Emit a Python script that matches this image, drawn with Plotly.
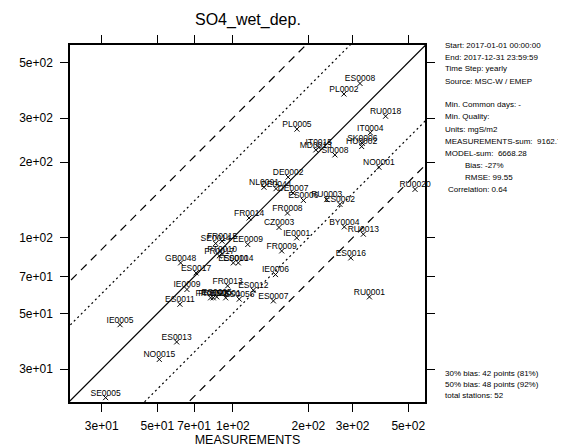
import plotly.graph_objects as go

# ---- data ----
stations = ["ES0008", "PL0002", "RU0018", "PL0005", "IT0004", "SK0006", "HU0002",
            "IT0015", "MD0013", "SI0008", "NO0001", "DE0002", "NL0091", "DE0044",
            "DE0007", "ES0006", "RU0003", "ES0002", "FR0008", "FR0014", "RU0020",
            "CZ0003", "BY0004", "RU0013", "IE0001", "FR0009", "ES0016", "IE0006",
            "ES0007", "RU0001", "SE0014", "FR0015", "EE0009", "FR0017", "PT0010",
            "ES0010", "ES0014", "GB0048", "ES0017", "IE0009", "FR0013", "ES0012",
            "FR0090", "FR0023", "ES0005", "ES0001", "ES0056", "ES0011", "IE0005",
            "ES0013", "NO0015", "SE0005"]
measurements = [321, 277, 406, 180, 353, 328, 326,
                220, 214, 255, 382, 166, 133, 148.5,
                173.6, 191, 236.6, 267, 165, 116, 532,
                152.7, 278, 331, 179.6, 156.5, 295, 147.8,
                145, 350, 85.4, 90.5, 114.6, 88.3, 90.5,
                100.4, 105.1, 61.9, 71.3, 65.6, 95.3, 120.6,
                81.5, 83.5, 86.2, 93.6, 106, 61.5, 35.5,
                59.7, 50.9, 31.1]
model = [412, 374, 305, 271, 262, 238, 231,
         229, 224, 214, 191, 174.5, 159, 157,
         150.7, 141, 142, 136, 125.5, 120, 156,
         110, 110.6, 103.4, 100, 88.7, 83.2, 71.4,
         56.1, 58.2, 95, 97, 94.1, 84.8, 86.5,
         79.5, 79.5, 79.5, 72.5, 62.3, 64.4, 61.9,
         57.7, 57.7, 58.2, 57.7, 57, 54.4, 45.1,
         38.5, 32.8, 23.1]

tick_vals = [30, 50, 70, 100, 200, 300, 500]
tick_text = ["3e+01", "5e+01", "7e+01", "1e+02", "2e+02", "3e+02", "5e+02"]

ref_factors = [1, 2, 0.5, 3, 1 / 3]
ref_dash = ["solid", "2px,3px", "2px,3px", "8px,6px", "8px,6px"]
ref_x = [10, 1000]

info_lines = ["Start: 2017-01-01 00:00:00", "End: 2017-12-31 23:59:59",
              "Time Step: yearly", "Source: MSC-W / EMEP", "",
              "Min. Common days: -", "Min. Quality:", "Units: mgS/m2",
              "MEASUREMENTS-sum:  9162.77", "MODEL-sum:  6668.28"]
stat_lines = ["Bias: -27%", "RMSE: 99.55"]
corr_line = "Correlation: 0.64"
bottom_lines = ["30% bias: 42 points (81%)", "50% bias: 48 points (92%)",
                "total stations: 52"]

FONT = "Liberation Sans, Arial, Helvetica, sans-serif"
OFF = 8  # page body margin
W, H = 566, 448
# plot box in page pixels: x 70..425, y 45..402
ML, MT = 70 - OFF, 45 - OFF
MR = W - (425 - OFF)
MB = H - (402 - OFF)
PW, PH = W - ML - MR, H - MT - MB

fig = go.Figure()
for f, d in zip(ref_factors, ref_dash):
    fig.add_trace(go.Scatter(x=ref_x, y=[v * f for v in ref_x], mode="lines",
                             line=dict(color="black", width=1.2, dash=d),
                             hoverinfo="skip", showlegend=False))

fig.add_trace(go.Scatter(
    x=measurements, y=model, mode="markers",
    marker=dict(symbol="x-thin", size=5, line=dict(color="black", width=1)),
    showlegend=False, cliponaxis=False))

fig.add_trace(go.Scatter(
    x=measurements, y=model, mode="text", text=stations,
    textposition="top center", marker=dict(size=1),
    textfont=dict(family=FONT, size=8.5, color="black"),
    hoverinfo="skip", showlegend=False, cliponaxis=False))

axis_common = dict(type="log", tickvals=tick_vals, ticktext=tick_text,
                   showgrid=False, zeroline=False, showline=True,
                   linecolor="black", linewidth=1.5, mirror="ticks",
                   ticks="outside", ticklen=8, tickwidth=1.2, tickcolor="black",
                   tickangle=0, automargin=False,
                   tickfont=dict(family=FONT, size=12, color="black"))

fig.update_layout(
    width=W, height=H,
    margin=dict(l=ML, r=MR, t=MT, b=MB),
    paper_bgcolor="white", plot_bgcolor="white",
    xaxis=dict(range=[1.3508, 2.7656], ticklabelstandoff=4,
               title=dict(text="MEASUREMENTS", font=dict(family=FONT, size=12.5, color="black"),
                          standoff=2), **axis_common),
    yaxis=dict(range=[1.3463, 2.768], ticklabelstandoff=5, **axis_common),
    showlegend=False,
)

annotations = []

def pix(xp, yp, text, size=8, anchor="left", color="black"):
    # xp, yp given in page pixels
    fx, fy = xp - OFF, yp - OFF
    annotations.append(dict(text=text, x=(fx - ML) / PW, y=(H - MB - fy) / PH,
                            xref="paper", yref="paper",
                            xanchor=anchor, yanchor="middle", showarrow=False,
                            font=dict(family=FONT, size=size, color=color)))

pix(247.5, 20, "SO4_wet_dep.", size=16, anchor="center")

y0 = 45
for i, t in enumerate(info_lines):
    if t:
        pix(443, y0 + 12 * i, t)
for j, t in enumerate(stat_lines):
    pix(463, y0 + 12 * (len(info_lines) + j), t)
pix(446, y0 + 12 * (len(info_lines) + len(stat_lines)), corr_line)

for k, t in enumerate(bottom_lines):
    pix(443, 373 + 11 * k, t)

pix(9, 142, "4.5", size=6, anchor="right", color="#777777")

fig.update_layout(annotations=annotations)
fig.write_html("out.html")
